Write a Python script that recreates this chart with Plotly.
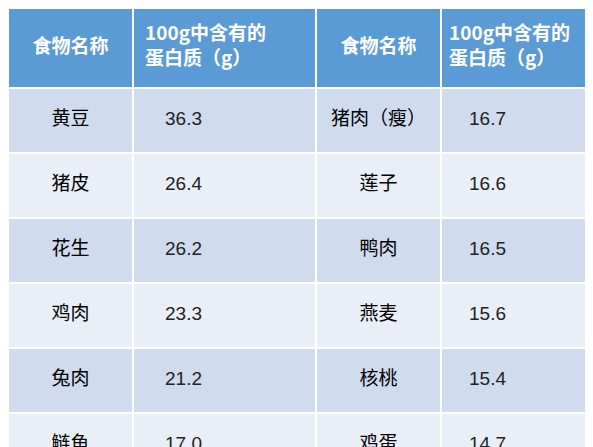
import plotly.graph_objects as go

header = ["食物名称", "100g中含有的<br>蛋白质（g）", "食物名称", "100g中含有的<br>蛋白质（g）"]
food_a = ["黄豆", "猪皮", "花生", "鸡肉", "兔肉", "鲢鱼"]
prot_a = ["36.3", "26.4", "26.2", "23.3", "21.2", "17.0"]
food_b = ["猪肉（瘦）", "莲子", "鸭肉", "燕麦", "核桃", "鸡蛋"]
prot_b = ["16.7", "16.6", "16.5", "15.6", "15.4", "14.7"]

# layout grid (pixels)
x_edges = [0, 125, 308, 433, 593]
y_edges = [0, 80, 145, 210, 275, 340, 405, 470]
font = "Noto Sans CJK SC"

n = len(food_a)
z = [[2] * 4] + [[i % 2] * 4 for i in range(n)]
mid_y = [(y_edges[i] + y_edges[i + 1]) / 2 for i in range(len(y_edges) - 1)]
body_y = mid_y[1:]

fig = go.Figure()
fig.add_trace(go.Heatmap(
    x=x_edges, y=y_edges, z=z, zmin=0, zmax=2,
    colorscale=[[0, "#D0DBEE"], [0.5, "#E9EEF7"], [1, "#5B9BD5"]],
    showscale=False, xgap=2, ygap=2, hoverinfo="skip",
))

name_cx = [(x_edges[0] + x_edges[1]) / 2, (x_edges[2] + x_edges[3]) / 2]
val_x = [x_edges[1] + 32, x_edges[3] + 28]

# header
fig.add_trace(go.Scatter(
    x=name_cx, y=[mid_y[0]] * 2, mode="text", text=[header[0], header[2]],
    textfont=dict(color="white", size=19, family=font, weight="bold"),
    hoverinfo="skip",
))
fig.add_trace(go.Scatter(
    x=[x_edges[1] + 12, x_edges[3] + 8], y=[mid_y[0]] * 2, mode="text",
    text=[header[1], header[3]], textposition="middle right",
    textfont=dict(color="white", size=19, family=font, weight="bold"),
    hoverinfo="skip",
))
# body
for names, vals, cx, vx in [(food_a, prot_a, name_cx[0], val_x[0]),
                            (food_b, prot_b, name_cx[1], val_x[1])]:
    fig.add_trace(go.Scatter(
        x=[cx] * n, y=body_y, mode="text", text=names,
        textfont=dict(color="black", size=19, family=font), hoverinfo="skip",
    ))
    fig.add_trace(go.Scatter(
        x=[vx] * n, y=body_y, mode="text", text=vals, textposition="middle right",
        textfont=dict(color="#222222", size=19, family="Arial, Liberation Sans"),
        hoverinfo="skip",
    ))

fig.update_layout(
    width=593, height=447, margin=dict(l=0, r=0, t=0, b=0),
    paper_bgcolor="white", plot_bgcolor="white", showlegend=False,
    xaxis=dict(range=[0, 593], visible=False, fixedrange=True),
    yaxis=dict(range=[447, 0], visible=False, fixedrange=True),
)
fig.write_html("out.html")
